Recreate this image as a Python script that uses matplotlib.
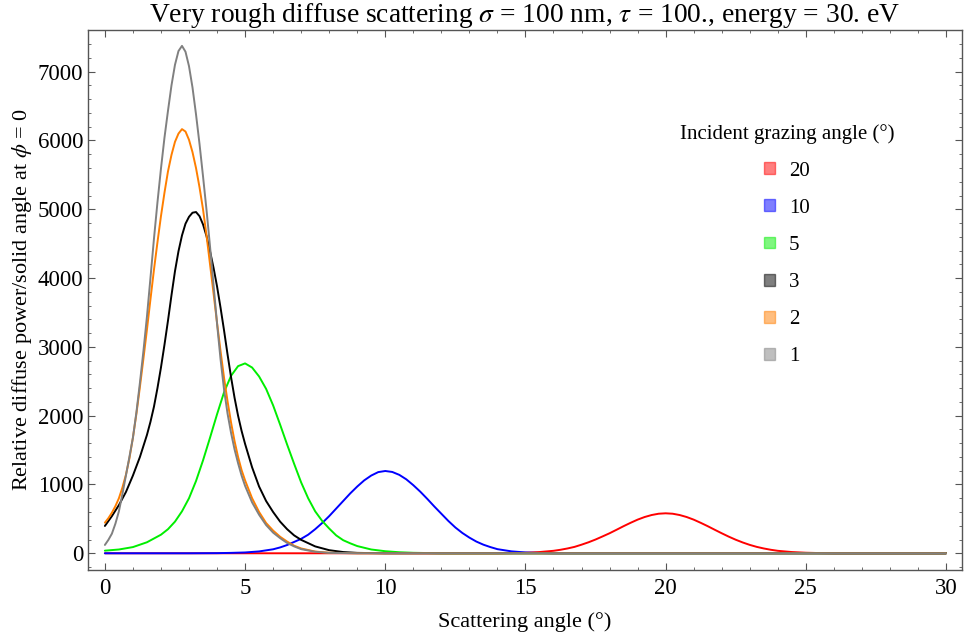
import matplotlib
matplotlib.use("Agg")
import matplotlib.pyplot as plt
from matplotlib.patches import Patch
from matplotlib.ticker import MultipleLocator

plt.rcParams['font.family'] = ['Liberation Serif', 'DejaVu Serif']
plt.rcParams['mathtext.fontset'] = 'stix'

# ---- data ----
# incident grazing angle 20 deg (red)
x_20 = [0, 14, 14.5, 15, 15.5, 16, 16.25, 16.5, 16.75, 17, 17.25, 17.5, 17.75, 18, 18.25,
        18.5, 18.75, 19, 19.25, 19.5, 19.75, 20, 20.25, 20.5, 20.75, 21, 21.25, 21.5,
        21.75, 22, 22.25, 22.5, 22.75, 23, 23.25, 23.5, 23.75, 24, 24.5, 25, 25.5, 26, 30]
y_20 = [0, 0, 3, 8, 18, 36, 51, 70, 93, 125, 160, 200, 245, 291, 342,
        394, 443, 489, 527, 556, 575, 581, 575, 556, 527, 489, 443, 394,
        342, 291, 242, 197, 157, 122, 93, 70, 51, 36, 18, 8, 3, 0, 0]

# 10 deg (blue)
x_10 = [0, 3, 4, 4.5, 5, 5.5, 6, 6.25, 6.5, 6.75, 7, 7.25, 7.5, 7.75, 8, 8.25, 8.5, 8.75,
        9, 9.25, 9.5, 9.75, 10, 10.25, 10.5, 10.75, 11, 11.25, 11.5, 11.75, 12, 12.25,
        12.5, 12.75, 13, 13.25, 13.5, 13.75, 14, 14.5, 15, 15.5, 16, 30]
y_10 = [0, 0, 2, 6, 12, 27, 58, 85, 120, 165, 210, 270, 350, 440, 540, 650, 760, 870,
        970, 1060, 1130, 1180, 1196, 1182, 1140, 1075, 990, 895, 790, 680, 575, 470,
        375, 295, 228, 170, 125, 90, 60, 28, 12, 4, 0, 0]

# 5 deg (green)
x_5 = [0, 0.5, 1, 1.5, 2, 2.25, 2.5, 2.75, 3, 3.25, 3.5, 3.75, 4, 4.25, 4.5, 4.75, 5,
       5.25, 5.5, 5.75, 6, 6.25, 6.5, 6.75, 7, 7.25, 7.5, 7.75, 8, 8.25, 8.5, 8.75, 9,
       9.5, 10, 10.5, 11, 12, 30]
y_5 = [38, 55, 90, 160, 270, 350, 460, 610, 800, 1050, 1350, 1680, 2020, 2340, 2580, 2720, 2760,
       2700, 2570, 2390, 2150, 1870, 1580, 1300, 1030, 800, 610, 470, 360, 260, 190, 145, 105,
       55, 30, 15, 7, 0, 0]

# 3 deg (black)
x_3 = [0, 0.25, 0.5, 0.75, 1, 1.25, 1.5, 1.625, 1.75, 1.875, 2, 2.125, 2.25, 2.375, 2.5,
       2.625, 2.75, 2.875, 3, 3.125, 3.25, 3.375, 3.5, 3.625, 3.75, 3.875, 4, 4.125, 4.25,
       4.375, 4.5, 4.625, 4.75, 4.875, 5, 5.25, 5.5, 5.75, 6, 6.25, 6.5, 6.75, 7, 7.5, 8,
       8.5, 9, 10, 30]
y_3 = [397, 540, 700, 890, 1130, 1400, 1720, 1910, 2130, 2400, 2700, 3030, 3380, 3750, 4100,
       4390, 4620, 4790, 4890, 4950, 4960, 4900, 4780, 4610, 4390, 4150, 3880, 3570, 3240,
       2890, 2560, 2260, 2000, 1780, 1590, 1250, 970, 760, 600, 460, 350, 260, 195, 100, 45,
       18, 6, 0, 0]

# 2 deg (orange)
x_2 = [0, 0.125, 0.25, 0.375, 0.5, 0.625, 0.75, 0.875, 1, 1.125, 1.25, 1.375, 1.5, 1.625,
       1.75, 1.875, 2, 2.125, 2.25, 2.375, 2.5, 2.625, 2.75, 2.875, 3, 3.125, 3.25, 3.375,
       3.5, 3.625, 3.75, 3.875, 4, 4.125, 4.25, 4.375, 4.5, 4.625, 4.75, 4.875, 5, 5.25,
       5.5, 5.75, 6, 6.25, 6.5, 6.75, 7, 7.5, 8, 9, 30]
y_2 = [445, 510, 590, 685, 800, 955, 1140, 1380, 1680, 2030, 2420, 2830, 3250, 3690,
       4120, 4520, 4900, 5240, 5550, 5790, 5980, 6100, 6165, 6130, 6010, 5830, 5600, 5320,
       5000, 4620, 4200, 3780, 3350, 2940, 2550, 2210, 1900, 1630, 1400, 1210, 1060, 800,
       600, 440, 330, 240, 170, 110, 70, 25, 8, 0, 0]

# 1 deg (gray)
x_1 = [0, 0.125, 0.25, 0.375, 0.5, 0.625, 0.75, 0.875, 1, 1.125, 1.25, 1.375, 1.5, 1.625,
       1.75, 1.875, 2, 2.125, 2.25, 2.375, 2.5, 2.625, 2.75, 2.875, 3, 3.125, 3.25, 3.375,
       3.5, 3.625, 3.75, 3.875, 4, 4.125, 4.25, 4.375, 4.5, 4.625, 4.75, 4.875, 5, 5.25,
       5.5, 5.75, 6, 6.25, 6.5, 6.75, 7, 7.5, 8, 9, 30]
y_1 = [121, 195, 285, 430, 610, 860, 1130, 1400, 1680, 2050, 2480, 2940, 3440, 4000,
       4570, 5100, 5590, 6040, 6430, 6800, 7100, 7300, 7375, 7290, 7080, 6770, 6380, 5950,
       5480, 4990, 4460, 3900, 3340, 2820, 2380, 2030, 1750, 1510, 1310, 1130, 980, 740,
       560, 410, 300, 220, 150, 100, 60, 22, 6, 0, 0]

series_labels = ['20', '10', '5', '3', '2', '1']
series_colors = ['#ff0000', '#0000ff', '#00ee00', '#000000', '#ff7f00', '#808080']
series_x = [x_20, x_10, x_5, x_3, x_2, x_1]
series_y = [y_20, y_10, y_5, y_3, y_2, y_1]

x_ticks = [0, 5, 10, 15, 20, 25, 30]
y_ticks = [0, 1000, 2000, 3000, 4000, 5000, 6000, 7000]

# ---- figure ----
fig = plt.figure(figsize=(9.64, 6.4), dpi=100)
ax = fig.add_axes([87.5 / 964, 1 - 570 / 640, (962 - 87.5) / 964, (570 - 29.5) / 640])

for xs, ys, c in zip(series_x, series_y, series_colors):
    ax.plot(xs, ys, color=c, lw=1.4, solid_joinstyle='round', solid_capstyle='round')

ax.set_xlim(-0.62, 30.57)
ax.set_ylim(-243, 7613)
ax.set_xticks(x_ticks)
ax.set_yticks(y_ticks)
ax.xaxis.set_minor_locator(MultipleLocator(1))
ax.yaxis.set_minor_locator(MultipleLocator(200))
ax.tick_params(which='both', direction='in', top=True, right=True,
               color='#555555', labelsize=16.5)
ax.tick_params(which='major', length=5, width=0.8)
ax.tick_params(which='minor', length=2.5, width=0.6)
ax.tick_params(axis='x', pad=6)
ax.tick_params(axis='y', pad=3)
for s in ax.spines.values():
    s.set_color('#555555')
    s.set_linewidth(1.0)

ax.set_xlabel('Scattering angle (°)', fontsize=16, labelpad=9)
ax.set_ylabel(r'Relative diffuse power/solid angle at $\phi$ = 0', fontsize=16, labelpad=3)
ax.set_title(r'Very rough diffuse scattering $\sigma$ = 100 nm, $\tau$ = 100., energy = 30. eV',
             fontsize=19.8, pad=3)

handles = [Patch(facecolor=c, edgecolor=c, alpha=0.5, linewidth=1.0) for c in series_colors]
leg = ax.legend(handles, series_labels, title='Incident grazing angle (°)',
                loc='center', bbox_to_anchor=(787 / 964, 1 - 245 / 640),
                bbox_transform=fig.transFigure, frameon=False, fontsize=15,
                title_fontsize=15, handlelength=0.5, handleheight=0.5,
                handletextpad=0.7, labelspacing=0.87)
leg._legend_box.align = 'center'

fig.savefig('out.png', dpi=100)
